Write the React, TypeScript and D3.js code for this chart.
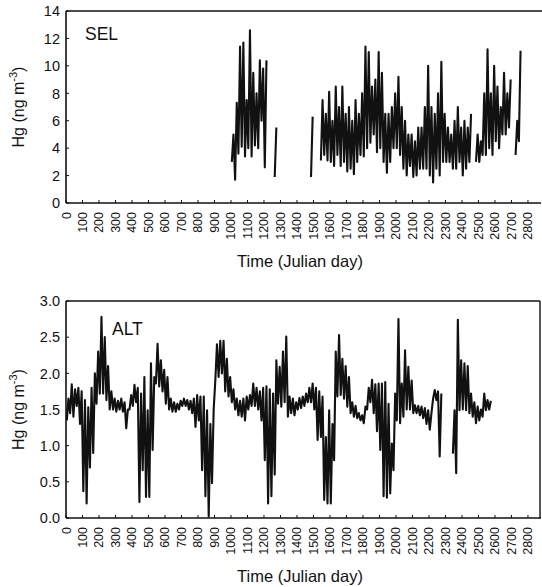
import React from "react";
import * as d3 from "d3";

// Hg concentrations (ng m-3), binned every 20 Julian days as [low, high] of the trace
const selStart = 1000;
const selBins: ([number, number] | null)[] = [
  [3.0, 5.0], [1.7, 7.3], [3.6, 11.4], [4.1, 11.7], [3.4, 7.5], [4.0, 12.6], [3.4, 9.5], [4.2, 8.0],
  [4.0, 10.4], [6.0, 9.8], [2.6, 10.4], null, null, [1.9, 5.5],
  null, null, null, null, null, null, null, null, null, null,
  [1.9, 6.3], null, null,
  [3.1, 7.5], [3.5, 6.5], [3.1, 8.1], [3.0, 6.0], [2.7, 8.5], [3.5, 7.0], [2.7, 8.5], [3.0, 6.5],
  [2.3, 7.0], [2.5, 6.0], [2.1, 7.5], [3.0, 6.5], [3.5, 8.0], [3.4, 11.4], [4.0, 11.0], [4.4, 8.5],
  [5.0, 9.0], [3.7, 11.0], [4.0, 9.5], [3.0, 6.5], [2.2, 6.5], [3.0, 7.0], [4.0, 8.0], [4.0, 9.2],
  [3.5, 7.0], [2.5, 6.0], [2.0, 5.0], [2.7, 5.0], [1.9, 4.5], [2.0, 5.5], [2.5, 5.5], [2.5, 7.0],
  [2.5, 10.0], [2.0, 7.0], [1.5, 6.5], [2.5, 8.0], [2.0, 10.3], [3.0, 6.5], [3.0, 5.5], [3.0, 5.0],
  [2.5, 6.0], [2.5, 7.0], [3.0, 5.5], [2.0, 6.0], [2.5, 5.5], [3.0, 6.5], null, [3.0, 5.0],
  [3.0, 4.5], [3.5, 8.0], [3.5, 11.2], [4.0, 8.0], [3.5, 10.0], [4.5, 8.5], [4.0, 7.0], [5.0, 9.5],
  [5.0, 8.0], [5.5, 9.0], null, [3.5, 6.0], [4.5, 11.1],
];

const altStart = 0;
const altBins: ([number, number] | null)[] = [
  [1.35, 1.65], [1.45, 1.85], [1.4, 1.78], [1.55, 1.8], [1.3, 1.75], [0.37, 1.63], [0.2, 1.53], [0.7, 1.8],
  [0.9, 2.0], [1.58, 2.3], [1.72, 2.78], [1.72, 2.5], [1.63, 2.1], [1.5, 1.75], [1.5, 1.65], [1.47, 1.62],
  [1.5, 1.65], [1.47, 1.6], [1.24, 1.5], [1.5, 1.7], [1.55, 1.84], [1.6, 1.8], [0.22, 1.72], [0.66, 1.95],
  [0.29, 1.49], [0.29, 2.14], [0.94, 1.95], [1.86, 2.41], [1.82, 2.18], [1.75, 2.05], [1.58, 1.95], [1.5, 1.65],
  [1.47, 1.6], [1.47, 1.58], [1.5, 1.62], [1.55, 1.65], [1.55, 1.63], [1.5, 1.62], [1.45, 1.65], [1.26, 1.7],
  [1.35, 1.68], [0.66, 1.68], [0.3, 1.49], [0.02, 1.3], [0.48, 1.5], [1.9, 2.4], [1.95, 2.45], [2.0, 2.45],
  [1.75, 2.2], [1.68, 1.95], [1.6, 1.78], [1.5, 1.65], [1.42, 1.62], [1.4, 1.65], [1.35, 1.68], [1.5, 1.7],
  [1.55, 1.86], [1.55, 1.8], [1.5, 1.75], [1.35, 1.8], [0.8, 1.82], [0.2, 1.78], [0.3, 1.72], [0.6, 2.18],
  [1.58, 2.09], [1.54, 2.3], [1.6, 2.51], [1.4, 1.68], [1.45, 1.65], [1.42, 1.6], [1.5, 1.66], [1.52, 1.68],
  [1.55, 1.72], [1.6, 1.8], [1.6, 1.86], [1.5, 1.8], [1.08, 1.75], [1.12, 1.68], [0.25, 1.12], [0.2, 1.49],
  [0.2, 1.3], [0.8, 2.3], [1.68, 2.53], [1.7, 2.2], [1.65, 2.1], [1.54, 1.95], [1.45, 1.6], [1.4, 1.55],
  [1.38, 1.45], [1.35, 1.42], [1.31, 1.54], [1.5, 1.8], [1.6, 1.91], [1.45, 1.85], [1.2, 1.86], [0.94, 1.86],
  [0.3, 1.88], [0.28, 1.58], [0.34, 1.03], [0.66, 1.72], [1.35, 2.75], [1.31, 1.86], [1.4, 2.32], [1.5, 2.09],
  [1.5, 1.9], [1.45, 1.56], [1.45, 1.55], [1.42, 1.54], [1.38, 1.52], [1.3, 1.49], [1.22, 1.45], [1.65, 1.77],
  [1.63, 1.75], [0.85, 1.72], null, null, null, [0.89, 1.49], [0.62, 2.74], [1.49, 2.18],
  [1.5, 2.14], [1.49, 2.1], [1.45, 1.72], [1.4, 1.6], [1.31, 1.54], [1.35, 1.5], [1.4, 1.72], [1.49, 1.63],
  [1.5, 1.62],
];

const binDays = 20;
const dayTicks = d3.range(0, 2801, 100);
const selTicks = [0, 2, 4, 6, 8, 10, 12, 14];
const altTicks = [0, 0.5, 1.0, 1.5, 2.0, 2.5, 3.0];

const font = "'Liberation Sans', Arial, sans-serif";
const ink = "#111";

type Pt = { d: number; v: number | null };

type PanelProps = {
  bins: ([number, number] | null)[];
  start: number;
  yMax: number;
  yTicks: number[];
  fmt: (v: number) => string;
  top: number;
  bottom: number;
  name: string;
  nameX: number;
  nameY: number;
  rightBorder: boolean;
};

const x = d3.scaleLinear().domain([0, 2879]).range([66, 541]);

const Panel = ({ bins, start, yMax, yTicks, fmt, top, bottom, name, nameX, nameY, rightBorder }: PanelProps) => {
  const y = d3.scaleLinear().domain([0, yMax]).range([bottom, top]);
  // trace: low then high of each bin, broken where there are no data
  const pts: Pt[] = bins.flatMap((b, i) => {
    const d0 = start + i * binDays;
    return b ? [{ d: d0 + 5, v: b[0] }, { d: d0 + 15, v: b[1] }] : [{ d: d0 + 10, v: null }];
  });
  const line = d3
    .line<Pt>()
    .defined(p => p.v !== null)
    .x(p => x(p.d))
    .y(p => y(p.v as number));
  const midY = (top + bottom) / 2;
  return (
    <g>
      <path d={line(pts) || ""} fill="none" stroke={ink} strokeWidth={2.1} strokeLinejoin="round" />
      {/* frame */}
      <line x1={66} x2={rightBorder ? 540 : 542} y1={top} y2={top} stroke={ink} strokeWidth={1.4} />
      <line x1={66} x2={66} y1={top} y2={bottom} stroke={ink} strokeWidth={1.6} />
      <line x1={66} x2={541} y1={bottom} y2={bottom} stroke={ink} strokeWidth={1.6} />
      {rightBorder && <line x1={540} x2={540} y1={top} y2={bottom} stroke={ink} strokeWidth={1.4} />}
      {yTicks.map(t => (
        <g key={t}>
          <line x1={66} x2={69} y1={y(t)} y2={y(t)} stroke={ink} strokeWidth={1} />
          <text x={60} y={y(t)} dy="0.36em" textAnchor="end" fontSize={14.5} fontFamily={font} fill={ink}>
            {fmt(t)}
          </text>
        </g>
      ))}
      {dayTicks.map(t => (
        <g key={t}>
          <line x1={x(t)} x2={x(t)} y1={bottom} y2={bottom - 3} stroke={ink} strokeWidth={1} />
          <text
            transform={`translate(${x(t)},${bottom + 9}) rotate(-90)`}
            dy="0.36em"
            textAnchor="end"
            fontSize={12.5}
            fontFamily={font}
            fill={ink}
          >
            {t}
          </text>
        </g>
      ))}
      <text x={nameX} y={nameY} fontSize={17.5} fontFamily={font} fill={ink}>
        {name}
      </text>
      <text
        transform={`translate(24,${midY}) rotate(-90)`}
        textAnchor="middle"
        fontSize={16}
        fontFamily={font}
        fill={ink}
      >
        Hg (ng m<tspan fontSize={11} dy="-0.6em">-3</tspan>
        <tspan dy="0.4em">)</tspan>
      </text>
      <text x={300} y={bottom + 64} textAnchor="middle" fontSize={16.5} fontFamily={font} fill={ink}>
        Time (Julian day)
      </text>
    </g>
  );
};

export default function App() {
  return (
    <svg width={542} height={587} style={{ position: "absolute", left: 0, top: 0, background: "#fff" }}>
      <Panel
        bins={selBins}
        start={selStart}
        yMax={14}
        yTicks={selTicks}
        fmt={d3.format("d")}
        top={11}
        bottom={203}
        name="SEL"
        nameX={85}
        nameY={40}
        rightBorder={false}
      />
      <Panel
        bins={altBins}
        start={altStart}
        yMax={3}
        yTicks={altTicks}
        fmt={d3.format(".1f")}
        top={301}
        bottom={518}
        name="ALT"
        nameX={112}
        nameY={335}
        rightBorder={true}
      />
    </svg>
  );
}
